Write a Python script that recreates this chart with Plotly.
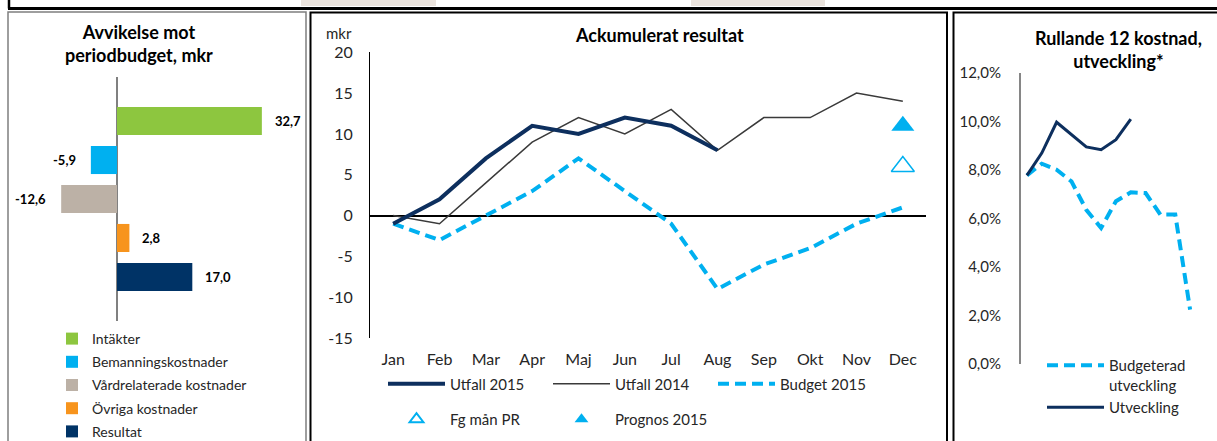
import plotly.graph_objects as go

W, H = 1217, 441


def px(x):
    return x / W


def py(y):
    return 1 - y / H


FONT = "Lato"

# ---------------- Panel 1: Avvikelse mot periodbudget ----------------
dev_categories = ["Intäkter", "Bemanningskostnader", "Vårdrelaterade kostnader",
                  "Övriga kostnader", "Resultat"]
dev_values = [32.7, -5.9, -12.6, 2.8, 17.0]
dev_colors = ["#8DC63F", "#00B0F0", "#BCB1A6", "#F7941D", "#003366"]

# ---------------- Panel 2: Ackumulerat resultat ----------------
months = ["Jan", "Feb", "Mar", "Apr", "Maj", "Jun", "Jul", "Aug", "Sep", "Okt", "Nov", "Dec"]
utfall_2015 = [-1, 2, 7, 11, 10, 12, 11, 8]
utfall_2014 = [0, -1, 4, 9, 12, 10, 13, 8, 12, 12, 15, 14]
budget_2015 = [-1, -3, 0, 3, 7, 3, -1, -9, -6, -4, -1, 1]
fg_man_pr_month = ["Dec"]
fg_man_pr = [6]
prognos_month = ["Dec"]
prognos_2015 = [11]
acc_tickvals = [-15, -10, -5, 0, 5, 10, 15, 20]
acc_ticktext = ["-15", "-10", "-5", "0", "5", "10", "15", "20"]

# ---------------- Panel 3: Rullande 12 kostnad ----------------
r12_periods = months
r12_budget = [0.0778, 0.0826, 0.0801, 0.0753, 0.0636, 0.0561,
              0.0671, 0.0708, 0.0705, 0.0616, 0.0616, 0.0224]
r12_actual = [0.0778, 0.0870, 0.0997, 0.0946, 0.0895, 0.0884, 0.0925, 0.1010]
r12_tickvals = [0, 0.02, 0.04, 0.06, 0.08, 0.10, 0.12]
r12_ticktext = ["0,0%", "2,0%", "4,0%", "6,0%", "8,0%", "10,0%", "12,0%"]

NAVY = "#0D2F5E"
LBLUE = "#00B0F0"

fig = go.Figure()

# Panel 1 bars
for i, (cat, val, col) in enumerate(zip(dev_categories, dev_values, dev_colors)):
    fig.add_trace(go.Bar(
        x=[val], y=[cat], orientation="h", name=cat, width=0.72,
        marker=dict(color=col, line=dict(width=0)),
        xaxis="x", yaxis="y", legend="legend", legendgroup=f"g{i}",
        showlegend=True,
    ))

# Panel 2 lines
fig.add_trace(go.Scatter(
    x=months, y=utfall_2014, name="Utfall 2014", mode="lines",
    line=dict(color="#3A3A3A", width=1.5), xaxis="x2", yaxis="y2",
    legend="legend2", legendrank=2))
fig.add_trace(go.Scatter(
    x=months, y=budget_2015, name="Budget 2015", mode="lines",
    line=dict(color=LBLUE, width=4, dash="11px,6px"), xaxis="x2", yaxis="y2",
    legend="legend2", legendrank=3))
fig.add_trace(go.Scatter(
    x=months[:len(utfall_2015)], y=utfall_2015, name="Utfall 2015", mode="lines",
    line=dict(color=NAVY, width=4), xaxis="x2", yaxis="y2",
    legend="legend2", legendrank=1))
fig.add_trace(go.Scatter(
    x=fg_man_pr_month, y=fg_man_pr, name="Fg mån PR", mode="markers",
    marker=dict(symbol="triangle-up-open", size=20, color=LBLUE, line=dict(width=1.5, color=LBLUE)),
    xaxis="x2", yaxis="y2", legend="legend3", legendrank=1))
fig.add_trace(go.Scatter(
    x=prognos_month, y=prognos_2015, name="Prognos 2015", mode="markers",
    marker=dict(symbol="triangle-up", size=20, color=LBLUE),
    xaxis="x2", yaxis="y2", legend="legend3", legendrank=2))

# Panel 3 lines
fig.add_trace(go.Scatter(
    x=r12_periods, y=r12_budget, name="Budgeterad<br>utveckling", mode="lines",
    line=dict(color=LBLUE, width=4, dash="11px,6px"), xaxis="x3", yaxis="y3",
    legend="legend4"))
fig.add_trace(go.Scatter(
    x=r12_periods[:len(r12_actual)], y=r12_actual, name="Utveckling", mode="lines",
    line=dict(color=NAVY, width=3), xaxis="x3", yaxis="y3",
    legend="legend4"))

# Bar labels
annotations = []
for cat, val in zip(dev_categories, dev_values):
    txt = f"{val:.1f}".replace(".", ",")
    annotations.append(dict(
        x=val, y=cat, xref="x", yref="y", text=txt, showarrow=False,
        xanchor="left" if val >= 0 else "right", xshift=11 if val >= 0 else -13,
        font=dict(family=FONT, size=13, color="#000000", weight="bold")))

# Titles
annotations += [
    dict(x=px(139), y=py(43), xref="paper", yref="paper", showarrow=False,
         text="Avvikelse mot<br>periodbudget, mkr", xanchor="center", yanchor="middle",
         font=dict(family=FONT, size=18, color="#000000", weight="bold")),
    dict(x=px(659), y=py(35), xref="paper", yref="paper", showarrow=False,
         text="Ackumulerat resultat", xanchor="center", yanchor="middle",
         font=dict(family=FONT, size=18, color="#000000", weight="bold")),
    dict(x=px(1118), y=py(50), xref="paper", yref="paper", showarrow=False,
         text="Rullande 12 kostnad,<br>utveckling*", xanchor="center", yanchor="middle",
         font=dict(family=FONT, size=18, color="#000000", weight="bold")),
    dict(x=px(339), y=py(33), xref="paper", yref="paper", showarrow=False,
         text="mkr", xanchor="center", yanchor="middle",
         font=dict(family=FONT, size=15, color="#262626")),
]

# Frames / decorations
shapes = [
    dict(type="rect", xref="paper", yref="paper", x0=px(301), x1=px(436), y0=py(0), y1=py(6),
         fillcolor="#EAE3DD", line=dict(width=0), layer="below"),
    dict(type="rect", xref="paper", yref="paper", x0=px(691), x1=px(825), y0=py(0), y1=py(6),
         fillcolor="#EAE3DD", line=dict(width=0), layer="below"),
    dict(type="line", xref="paper", yref="paper", x0=px(8), x1=px(1217), y0=py(8.5), y1=py(8.5),
         line=dict(color="#000000", width=3)),
    dict(type="line", xref="paper", yref="paper", x0=px(9), x1=px(9), y0=py(-2), y1=py(8.5),
         line=dict(color="#000000", width=2.5)),
    dict(type="rect", xref="paper", yref="paper", x0=px(8), x1=px(306), y0=py(12), y1=py(450),
         line=dict(color="#7F7F7F", width=1.5)),
    dict(type="rect", xref="paper", yref="paper", x0=px(310.5), x1=px(947), y0=py(12.5), y1=py(450),
         line=dict(color="#000000", width=2)),
    dict(type="rect", xref="paper", yref="paper", x0=px(953.5), x1=px(1230), y0=py(12.5), y1=py(450),
         line=dict(color="#000000", width=2)),
]

zero_px = 117
scale1 = 4.43
x1_left, x1_right = 20, 300

fig.update_layout(
    width=W, height=H,
    margin=dict(l=0, r=0, t=0, b=0, pad=0, autoexpand=False),
    paper_bgcolor="white", plot_bgcolor="rgba(0,0,0,0)",
    barmode="overlay",
    font=dict(family=FONT, color="#262626"),
    showlegend=True,
    annotations=annotations,
    shapes=shapes,
    xaxis=dict(domain=[px(x1_left), px(x1_right)],
               range=[(x1_left - zero_px) / scale1, (x1_right - zero_px) / scale1],
               showgrid=False, showticklabels=False, ticks="", showline=False,
               zeroline=True, zerolinecolor="#808080", zerolinewidth=1.5, anchor="y",
               automargin=False),
    yaxis=dict(domain=[py(321), py(77)], range=[5.13, -1.13], type="category",
               categoryorder="array", categoryarray=dev_categories,
               showgrid=False, showticklabels=False, ticks="", showline=False,
               zeroline=False, anchor="x", automargin=False),
    xaxis2=dict(domain=[px(370), px(926)], range=[-0.5, 11.5], type="category",
                categoryorder="array", categoryarray=months,
                showgrid=False, showline=False, zeroline=False, ticks="",
                tickfont=dict(family=FONT, size=16, color="#262626"),
                ticklabelstandoff=10, anchor="y2", automargin=False),
    yaxis2=dict(domain=[py(338), py(52.3)], range=[-15, 20],
                tickvals=acc_tickvals, ticktext=acc_ticktext,
                showgrid=False, showline=True, linecolor="#000000", linewidth=1,
                zeroline=True, zerolinecolor="#000000", zerolinewidth=2, ticks="",
                tickfont=dict(family=FONT, size=16, color="#262626"),
                ticklabelstandoff=13, anchor="x2", automargin=False),
    xaxis3=dict(domain=[px(1021), px(1199)], range=[-0.4, 11.6], type="category",
                categoryorder="array", categoryarray=r12_periods,
                showgrid=False, showline=False, zeroline=False, ticks="",
                showticklabels=False, anchor="y3", automargin=False),
    yaxis3=dict(domain=[py(364), py(73)], range=[0, 0.12],
                tickvals=r12_tickvals, ticktext=r12_ticktext,
                showgrid=False, showline=True, linecolor="#868686", linewidth=2,
                zeroline=False, ticks="",
                tickfont=dict(family=FONT, size=15, color="#262626"),
                ticklabelstandoff=15, anchor="x3", automargin=False),
    legend=dict(x=px(52), y=py(323), xanchor="left", yanchor="top",
                orientation="v", traceorder="grouped", tracegroupgap=2,
                bgcolor="rgba(0,0,0,0)", font=dict(family=FONT, size=14, color="#262626"),
                itemclick=False, itemdoubleclick=False),
    legend2=dict(x=px(383), y=py(367.5), xanchor="left", yanchor="top",
                 orientation="h", entrywidth=93, entrywidthmode="pixels", itemwidth=57,
                 bgcolor="rgba(0,0,0,0)", font=dict(family=FONT, size=15, color="#262626"),
                 traceorder="normal"),
    legend3=dict(x=px(383), y=py(403), xanchor="left", yanchor="top",
                 orientation="h", entrywidth=93, entrywidthmode="pixels", itemwidth=57,
                 itemsizing="constant",
                 bgcolor="rgba(0,0,0,0)", font=dict(family=FONT, size=15, color="#262626")),
    legend4=dict(x=px(1042), y=py(349), xanchor="left", yanchor="top",
                 orientation="v", itemwidth=57, valign="top",
                 bgcolor="rgba(0,0,0,0)", font=dict(family=FONT, size=15, color="#262626")),
)

fig.write_html("out.html",
               config={"displayModeBar": False},
               post_script="document.body.style.margin='0';document.body.style.padding='0';"
                           "document.body.style.overflow='hidden';")
